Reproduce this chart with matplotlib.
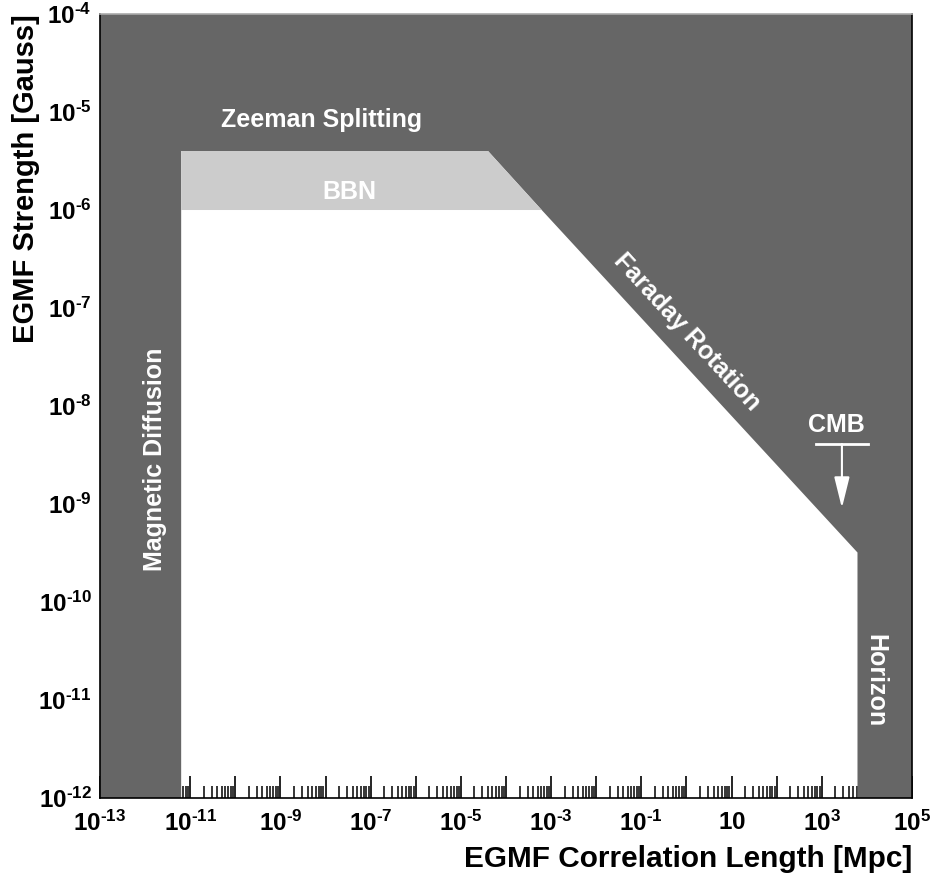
import math
import matplotlib
matplotlib.use('Agg')
from matplotlib import pyplot as plt
from matplotlib.ticker import FixedLocator, FuncFormatter, LogLocator, NullFormatter

plt.rcParams['font.family'] = ['Liberation Sans', 'DejaVu Sans']
plt.rcParams['font.weight'] = 'bold'
plt.rcParams['mathtext.fontset'] = 'custom'
plt.rcParams['mathtext.rm'] = 'Liberation Sans:bold'
plt.rcParams['mathtext.it'] = 'Liberation Sans:bold'
plt.rcParams['mathtext.bf'] = 'Liberation Sans:bold'
plt.rcParams['mathtext.default'] = 'rm'

# constraint boundaries (correlation length in Mpc, field in Gauss)
L_diffusion = 6.3e-12
L_horizon = 6.2e3
B_bbn = 1e-6
B_zeeman = 4.0e-6
faraday_L = [4.0e-5, 6.2e-4, 6.2e3]
faraday_B = [4.0e-6, 1.0e-6, 3.2e-10]
cmb_L = [7.6e2, 2.8e3, 1.07e4]
cmb_B = [4.1e-9, 9.1e-10]

x_lim = [1e-13, 1e5]
y_lim = [1e-12, 1e-4]

dark = '#666666'
light = '#cccccc'

fig = plt.figure(figsize=(9.32, 8.76), dpi=100)
ax = fig.add_axes([0.1073, 0.089, 0.8712, 0.895])
ax.set_xscale('log')
ax.set_yscale('log')
ax.set_xlim(x_lim)
ax.set_ylim(y_lim)

# excluded region: everything outside the allowed area and the BBN band
excl_x = [x_lim[0], L_diffusion, L_diffusion, faraday_L[0], faraday_L[1], faraday_L[2],
          L_horizon, x_lim[1], x_lim[1], x_lim[0]]
excl_y = [y_lim[0], y_lim[0], B_zeeman, faraday_B[0], faraday_B[1], faraday_B[2],
          y_lim[0], y_lim[0], y_lim[1], y_lim[1]]
ax.fill(excl_x, excl_y, color=dark, lw=0, zorder=3)

# BBN band
bbn_x = [L_diffusion, L_diffusion, faraday_L[0], faraday_L[1]]
bbn_y = [B_bbn, B_zeeman, faraday_B[0], faraday_B[1]]
ax.fill(bbn_x, bbn_y, color=light, lw=0, zorder=3)

# CMB limit with arrow
ax.plot([cmb_L[0], cmb_L[2]], [cmb_B[0], cmb_B[0]], color='white', lw=2, zorder=5)
ax.annotate('', xy=(cmb_L[1], cmb_B[1]), xytext=(cmb_L[1], cmb_B[0]),
            arrowprops=dict(arrowstyle='-|>,head_length=1.9,head_width=0.47',
                            color='white', lw=1.5, mutation_scale=10,
                            shrinkA=0, shrinkB=0), zorder=5)

txt = dict(color='white', fontweight='bold', fontsize=18, ha='center', va='center', zorder=6)
ax.text(10**-8.08, 10**-5.08, 'Zeeman Splitting', **txt)
ax.text(10**-7.48, 10**-5.82, 'BBN', **txt)
ax.text(1.0, 10**-7.245, 'Faraday Rotation', rotation=-47.4, rotation_mode='anchor', **txt)
ax.text(10**-11.78, 10**-8.54, 'Magnetic Diffusion', rotation=90, **txt)
ax.text(10**4.18, 10**-10.8, 'Horizon', rotation=-90, **txt)
ax.text(10**3.32, 10**-8.19, 'CMB', **txt)

# ticks
x_exps = list(range(-13, 6))
y_exps = list(range(-12, -3))


def power_label(v, pos):
    e = int(round(math.log10(v)))
    if e == 1:
        return '$10$'
    if e < 0:
        return '$10^{\u2010%d}$' % -e
    return '$10^{%d}$' % e


def x_label(v, pos):
    e = int(round(math.log10(v)))
    if e % 2 == 0:
        return ''
    return power_label(v, pos)


ax.xaxis.set_major_locator(FixedLocator([10.0**e for e in x_exps]))
ax.xaxis.set_major_formatter(FuncFormatter(x_label))
ax.xaxis.set_minor_locator(LogLocator(base=10, subs=range(2, 10), numticks=100))
ax.xaxis.set_minor_formatter(NullFormatter())
ax.yaxis.set_major_locator(FixedLocator([10.0**e for e in y_exps]))
ax.yaxis.set_major_formatter(FuncFormatter(power_label))
ax.yaxis.set_minor_locator(FixedLocator([]))

ax.tick_params(axis='x', which='major', direction='in', length=16, width=1.2, labelsize=17.5, pad=9)
ax.tick_params(axis='x', which='minor', direction='in', length=8.5, width=1.1)
ax.tick_params(axis='y', which='both', length=0, labelsize=17.5, pad=6)

for s in ax.spines.values():
    s.set_zorder(4)
    s.set_linewidth(1.2)
ax.spines['top'].set_color('#aaaaaa')

ax.set_xlabel('EGMF Correlation Length [Mpc]', fontsize=21.4, fontweight='bold', loc='right', labelpad=7)
ax.set_ylabel('EGMF Strength [Gauss]', fontsize=21, fontweight='bold', loc='top', labelpad=-1)

fig.savefig('out.png', dpi=100)
